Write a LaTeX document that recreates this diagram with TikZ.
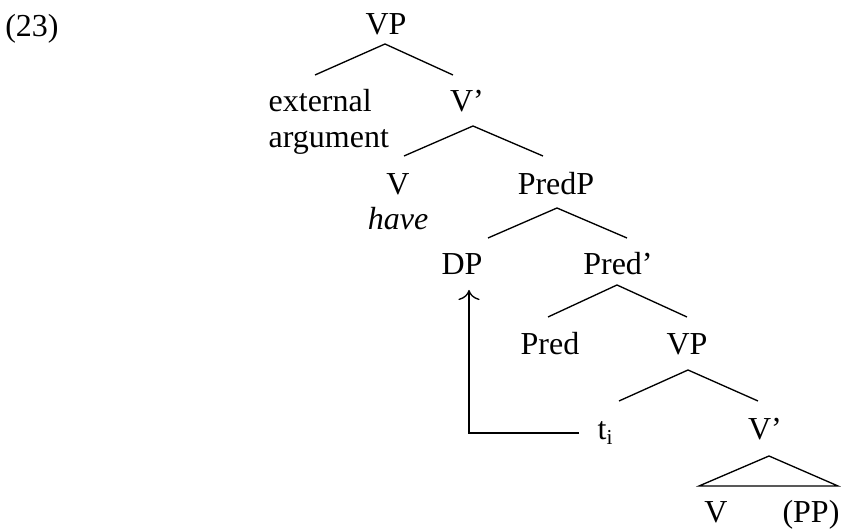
\documentclass[tikz,border=0pt]{standalone}
\usepackage{fontspec}
\setmainfont{Liberation Serif}
\usepackage{tikz}
\usetikzlibrary{arrows.meta}

\begin{document}
\begin{tikzpicture}[x=0.375pt, y=-0.375pt, line width=0.5pt,
    every node/.style={font=\fontsize{12}{13.5}\selectfont, inner sep=0pt, anchor=base}]
    \useasboundingbox (0,0) rectangle (841,529);

    % Example number
    \node (ex) at (32,37) {(23)};

    % Nodes of the tree
    \node (vp) at (386,35) {VP};
    \node[anchor=base west, align=left] (ext) at (268,148) {external\\argument};
    \node (vbar) at (467,112) {V’};
    \node (v) at (398,195) {V};
    \node (have) at (398,230) {\itshape have};
    \node (predp) at (556,195) {PredP};
    \node (dp) at (462,275) {DP};
    \node (predbar) at (618,275) {Pred’};
    \node (pred) at (550,355) {Pred};
    \node (vpl) at (687,355) {VP};
    \node[anchor=base west] (ti) at (597,440) {t\textsubscript{i}};
    \node (vbarl) at (765,440) {V’};
    \node (vl) at (716,523) {V};
    \node (pp) at (811,523) {(PP)};

    % Branches
    \draw (vp.base) ++(-1,9) coordinate (vp-a) +(-70,31) -- (vp-a) -- +(68,31);
    \draw (vbar.base) ++(6,14) coordinate (vbar-a) +(-69,30) -- (vbar-a) -- +(70,30);
    \draw (predp.base) ++(1,13) coordinate (predp-a) +(-69,30) -- (predp-a) -- +(70,30);
    \draw (predbar.base) ++(-1,10) coordinate (predbar-a) +(-69,32) -- (predbar-a) -- +(70,32);
    \draw (vpl.base) ++(1,15) coordinate (vpl-a) +(-69,31) -- (vpl-a) -- +(70,31);

    % Triangle under the lower V'
    \draw (vbarl.base) ++(4,16) coordinate (vbarl-a) -- +(-70,30) -- +(69,30) -- cycle;

    % Movement arrow from the trace up to DP
    \draw[-{To[scale=1.4]}] (ti.base west) ++(-18,-7) -| ([shift={(7,15)}]dp.base);
\end{tikzpicture}
\end{document}
